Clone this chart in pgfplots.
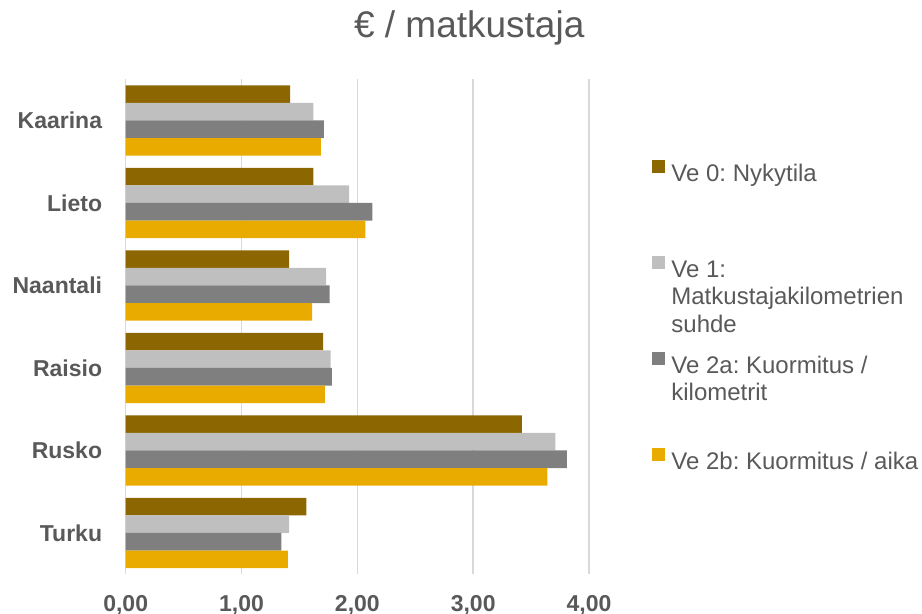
\documentclass[border=0pt]{standalone}
\usepackage{pgfplots}
\pgfplotsset{compat=1.18}
\usepackage{fontspec}
\setmainfont{Liberation Sans}
\definecolor{c0}{HTML}{8C6600}
\definecolor{c1}{HTML}{BFBFBF}
\definecolor{c2}{HTML}{7F7F7F}
\definecolor{c3}{HTML}{EAAB00}
\definecolor{gridc}{HTML}{D9D9D9}
\definecolor{txt}{HTML}{595959}
\newcommand{\lent}[1]{\parbox[t]{125pt}{\strut #1}}
\frenchspacing
\begin{document}
\frenchspacing
\begin{tikzpicture}
\path[use as bounding box] (0pt,0pt) rectangle (461pt,-307pt);
\node[anchor=base, font=\fontsize{18.5}{22}\selectfont, text=txt, inner sep=0pt] at (234.6pt,-19pt) {€ / matkustaja};
\begin{axis}[
  at={(62.85pt,-287.1pt)}, anchor=south west,
  scale only axis, width=231.65pt, height=247.5pt,
  xbar, bar width=0.213,
  xmin=0, xmax=4, ymin=-0.5, ymax=5.5,
  xtick={0,1,2,3,4}, ytick={0,1,2,3,4,5},
  yticklabels={Turku,Rusko,Raisio,Naantali,Lieto,Kaarina},
  xmajorgrids, grid style={draw=gridc, line width=0.75pt},
  axis line style={draw=none}, tick style={draw=none},
  font=\fontsize{12}{13.75}\selectfont,
  ticklabel style={text=txt, font=\fontsize{11.5}{13.75}\selectfont\bfseries},
  /pgf/number format/fixed, /pgf/number format/fixed zerofill,
  /pgf/number format/precision=2, /pgf/number format/use comma,
  /pgf/number format/assume math mode=true,
  xticklabel style={anchor=base, inner sep=0pt, yshift=-18.7pt},
  yticklabel style={anchor=east, inner sep=0pt, xshift=-7.35pt},
  legend style={draw=none, fill=none, inner sep=0pt, at={(1.136,0.8373)}, anchor=north west,
    row sep={48pt,between origins}, column sep=3pt, nodes={inner sep=0pt, text=txt},
    font=\fontsize{12}{13.75}\selectfont\frenchspacing},
  legend cell align=left,
  legend image code/.code={\fill[#1,draw=none] (0pt,0pt) rectangle (6.5pt,6.5pt);},
]
\addplot[fill=c0, draw=none, bar shift=0.3195] coordinates {(1.42,5) (1.62,4) (1.41,3) (1.705,2) (3.42,1) (1.56,0)};
\addlegendentry{\lent{Ve 0: Nykytila}}
\addplot[fill=c1, draw=none, bar shift=0.1065] coordinates {(1.62,5) (1.93,4) (1.73,3) (1.77,2) (3.71,1) (1.41,0)};
\addlegendentry{\lent{Ve 1:\\Matkustajakilometrien\\suhde}}
\addplot[fill=c2, draw=none, bar shift=-0.1065] coordinates {(1.71,5) (2.13,4) (1.76,3) (1.78,2) (3.81,1) (1.345,0)};
\addlegendentry{\lent{Ve 2a: Kuormitus /\\kilometrit}}
\addplot[fill=c3, draw=none, bar shift=-0.3195] coordinates {(1.685,5) (2.07,4) (1.61,3) (1.72,2) (3.64,1) (1.40,0)};
\addlegendentry{\lent{Ve 2b: Kuormitus / aika}}
\end{axis}
\end{tikzpicture}
\end{document}
